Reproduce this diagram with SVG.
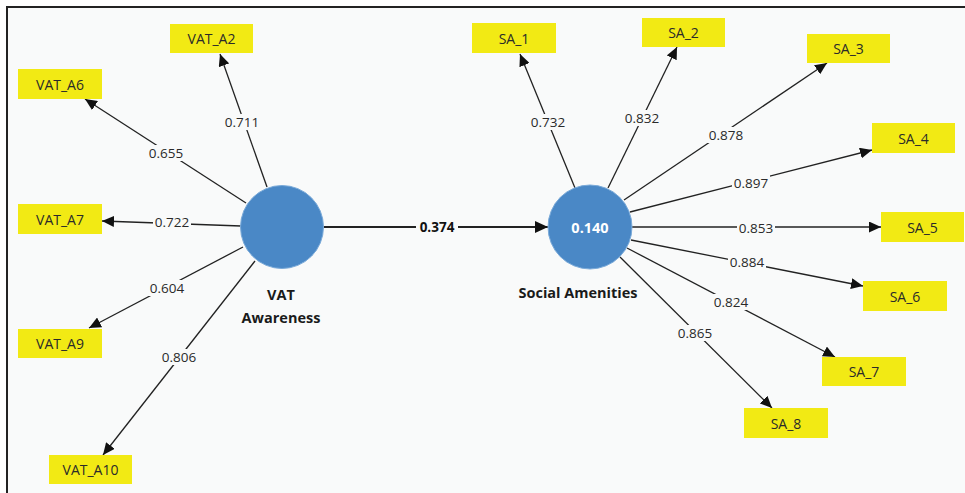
<svg xmlns="http://www.w3.org/2000/svg" width="965" height="493" viewBox="0 0 965 493">
  <defs>
    <marker id="arrow" viewBox="0 0 12 11" refX="12" refY="5.5" markerWidth="12" markerHeight="11" markerUnits="userSpaceOnUse" orient="auto">
      <path d="M0,0 L12,5.5 L0,11 Z" fill="#111"/>
    </marker>
    <marker id="arrowBig" viewBox="0 0 13 12" refX="13" refY="6" markerWidth="13" markerHeight="12" markerUnits="userSpaceOnUse" orient="auto">
      <path d="M0,0 L13,6 L0,12 Z" fill="#111"/>
    </marker>
    <style>
      .bg { fill: #f9fafa; }
      .frame { stroke: #222; stroke-width: 2; fill: none; }
      .ind rect { fill: #f2ea14; }
      .ind text { font-family: "Open Sans", "Liberation Sans", sans-serif; font-size: 14px; fill: #2a2a2a; text-anchor: middle; dominant-baseline: central; }
      .lv circle { fill: #4a88c6; stroke: #7aaad9; stroke-width: 1; }
      .lv text.name { font-family: "Open Sans", "Liberation Sans", sans-serif; font-size: 14.5px; font-weight: bold; fill: #1a1a1a; text-anchor: middle; }
      .lv text.r2 { font-family: "Open Sans", "Liberation Sans", sans-serif; font-size: 14.5px; font-weight: bold; fill: #ffffff; text-anchor: middle; dominant-baseline: central; }
      .edges line { stroke: #222; stroke-width: 1.3; marker-end: url(#arrow); }
      .edges line.path { stroke-width: 2; marker-end: url(#arrowBig); }
      .wlab rect { fill: #f9fafa; }
      .wlab text { font-family: "Open Sans", "Liberation Sans", sans-serif; font-size: 13.5px; fill: #2a2a2a; text-anchor: middle; dominant-baseline: central; }
      .wlab text.bold { font-weight: bold; fill: #111; }
    </style>
  </defs>

  <!-- canvas -->
  <rect x="0" y="0" width="965" height="493" fill="#ffffff"/>
  <rect class="bg" x="8" y="8" width="957" height="485"/>
  <path class="frame" d="M7,493 L7,7 L965,7"/>

  <!-- connectors -->
  <g id="connectors" class="edges">
    <line class="path" x1="323" y1="227" x2="548" y2="227"/>
    <line x1="267" y1="187" x2="220" y2="54"/>
    <line x1="246" y1="203" x2="85" y2="99"/>
    <line x1="241" y1="226" x2="102" y2="221"/>
    <line x1="243" y1="247" x2="89" y2="328"/>
    <line x1="255" y1="261" x2="103" y2="455"/>
    <line x1="575" y1="188" x2="520" y2="54"/>
    <line x1="608" y1="188" x2="677" y2="47"/>
    <line x1="624" y1="200" x2="827" y2="63"/>
    <line x1="630" y1="212" x2="872" y2="150"/>
    <line x1="632" y1="227" x2="881" y2="227"/>
    <line x1="631" y1="240" x2="863" y2="286"/>
    <line x1="627" y1="248" x2="835" y2="357"/>
    <line x1="620" y1="257" x2="772" y2="408"/>
  </g>

  <!-- edge weights -->
  <g id="weights" class="wlab">
    <rect x="416" y="219" width="42" height="16"/><text class="bold" x="437" y="227">0.374</text>
    <rect x="224" y="114" width="36" height="16"/><text x="242" y="122">0.711</text>
    <rect x="147" y="145" width="38" height="16"/><text x="166" y="153">0.655</text>
    <rect x="153" y="215" width="38" height="16"/><text x="172" y="222">0.722</text>
    <rect x="148" y="280" width="38" height="16"/><text x="167" y="288">0.604</text>
    <rect x="160" y="349" width="38" height="16"/><text x="179" y="357">0.806</text>
    <rect x="529" y="114" width="38" height="16"/><text x="548" y="122">0.732</text>
    <rect x="623" y="110" width="38" height="16"/><text x="642" y="118">0.832</text>
    <rect x="707" y="127" width="38" height="16"/><text x="726" y="135">0.878</text>
    <rect x="732" y="175" width="38" height="16"/><text x="751" y="183">0.897</text>
    <rect x="737" y="220" width="38" height="16"/><text x="756" y="228">0.853</text>
    <rect x="728" y="254" width="38" height="16"/><text x="747" y="262">0.884</text>
    <rect x="712" y="294" width="38" height="16"/><text x="731" y="302">0.824</text>
    <rect x="676" y="325" width="38" height="16"/><text x="695" y="333">0.865</text>
  </g>

  <!-- latent variables -->
  <g id="vat-awareness" class="lv">
    <circle cx="282" cy="227" r="41.5"/>
    <text class="name" x="281" y="300">VAT</text>
    <text class="name" x="281" y="323">Awareness</text>
  </g>
  <g id="social-amenities" class="lv">
    <circle cx="590" cy="227" r="42"/>
    <text class="r2" x="590" y="227">0.140</text>
    <text class="name" x="578" y="298">Social Amenities</text>
  </g>

  <!-- indicators -->
  <g id="VAT_A2" class="ind"><rect x="170" y="24" width="83" height="29"/><text x="211.5" y="38.5">VAT_A2</text></g>
  <g id="VAT_A6" class="ind"><rect x="18" y="69" width="84" height="30"/><text x="60" y="84">VAT_A6</text></g>
  <g id="VAT_A7" class="ind"><rect x="18" y="204" width="84" height="30"/><text x="60" y="219">VAT_A7</text></g>
  <g id="VAT_A9" class="ind"><rect x="18" y="329" width="84" height="29"/><text x="60" y="343.5">VAT_A9</text></g>
  <g id="VAT_A10" class="ind"><rect x="49" y="455" width="83" height="29"/><text x="90.5" y="469.5">VAT_A10</text></g>
  <g id="SA_1" class="ind"><rect x="472" y="23" width="84" height="30"/><text x="514" y="38">SA_1</text></g>
  <g id="SA_2" class="ind"><rect x="642" y="18" width="83" height="29"/><text x="683.5" y="32.5">SA_2</text></g>
  <g id="SA_3" class="ind"><rect x="807" y="34" width="83" height="29"/><text x="848.5" y="48.5">SA_3</text></g>
  <g id="SA_4" class="ind"><rect x="872" y="123" width="83" height="30"/><text x="913.5" y="138">SA_4</text></g>
  <g id="SA_5" class="ind"><rect x="881" y="212" width="83" height="30"/><text x="922.5" y="227">SA_5</text></g>
  <g id="SA_6" class="ind"><rect x="863" y="281" width="84" height="30"/><text x="905" y="296">SA_6</text></g>
  <g id="SA_7" class="ind"><rect x="822" y="357" width="84" height="29"/><text x="864" y="371.5">SA_7</text></g>
  <g id="SA_8" class="ind"><rect x="744" y="408" width="84" height="30"/><text x="786" y="423">SA_8</text></g>
</svg>
